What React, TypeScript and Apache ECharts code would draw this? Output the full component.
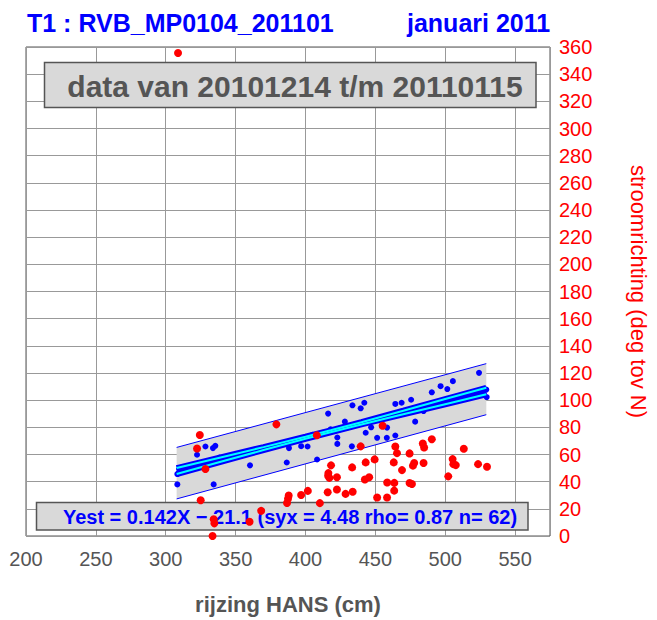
import React, { useEffect, useRef } from 'react';
import * as echarts from 'echarts';

// ---- data ----
const xMin = 200;
const xMax = 575;
const xStep = 50;
const yMin = 0;
const yMax = 360;
const yStep = 20;

const titleLeft = 'T1 : RVB_MP0104_201101';
const titleRight = 'januari 2011';
const periodText = 'data van 20101214 t/m 20110115';
const fitText = 'Yest = 0.142X \u2212 21.1 (syx = 4.48 rho= 0.87 n= 62)';
const xAxisName = 'rijzing HANS (cm)';
const yAxisName = 'stroomrichting (deg tov N)';

// blue points (n = 62)
const bluePoints: [number, number][] = [
  [308.3, 45.6], [308.3, 38.0], [322.4, 59.8], [328.4, 65.9], [333.8, 64.7],
  [335.5, 66.4], [334.3, 38.0], [338.5, 57.8], [360.3, 52.0], [386.6, 54.1],
  [388.2, 64.7], [396.9, 66.1], [401.5, 65.9], [408.3, 56.3], [416.2, 90.1],
  [433.6, 96.2], [439.5, 94.0], [442.1, 98.1], [428.2, 84.2], [422.8, 72.5],
  [422.8, 67.8], [433.2, 66.0], [443.1, 76.0], [451.3, 72.3], [458.2, 72.3],
  [464.3, 74.0], [464.3, 97.2], [468.8, 98.1], [475.6, 100.3], [478.5, 84.2],
  [490.4, 105.8], [501.5, 108.2], [505.5, 114.0], [524.2, 120.1], [529.7, 102.3],
  [529.4, 107.8], [496.7, 110.3], [484.5, 92.0], [458.4, 79.8], [315.0, 50.5],
  [325.0, 52.6], [345.0, 58.2], [352.0, 60.5], [365.0, 63.5], [372.0, 65.2],
  [380.0, 67.5], [392.0, 70.5], [400.0, 72.0], [405.0, 74.5], [412.0, 76.0],
  [418.0, 78.5], [425.0, 79.5], [430.0, 80.0], [436.0, 82.5], [445.0, 84.0],
  [450.0, 86.0], [455.0, 87.0], [470.0, 91.0], [488.0, 96.5], [510.0, 101.5],
  [520.0, 104.0], [447.0, 80.0],
];

// red points
const redPoints: [number, number][] = [
  [308.8, 355.6], [324.4, 74.3], [322.4, 64.4], [328.4, 49.3], [379.2, 82.2],
  [408.1, 74.2], [325.0, 26.3], [334.3, 12.3], [334.8, 9.3], [333.5, 0.0],
  [360.0, 10.5], [368.3, 18.5], [386.8, 24.3], [388.0, 29.8], [387.5, 27.5],
  [396.9, 30.2], [401.7, 33.2], [410.3, 24.2], [415.9, 32.2], [416.2, 44.4],
  [416.4, 46.3], [418.3, 52.0], [417.1, 42.8], [422.5, 43.2], [422.5, 34.2],
  [428.7, 31.0], [433.8, 32.6], [433.4, 50.5], [439.5, 66.0], [443.1, 54.2],
  [442.5, 41.6], [445.6, 43.2], [449.5, 56.4], [451.3, 28.3], [458.4, 28.3],
  [458.5, 39.4], [463.6, 39.1], [463.5, 33.4], [463.2, 54.2], [464.3, 65.9],
  [465.5, 61.0], [469.1, 48.5], [474.5, 39.0], [476.2, 38.3], [474.5, 60.8],
  [477.8, 53.7], [476.9, 51.8], [484.5, 53.7], [484.0, 68.1], [484.9, 65.2],
  [490.4, 71.2], [502.2, 43.9], [505.3, 56.6], [505.8, 52.9], [507.6, 52.2],
  [513.3, 64.2], [523.5, 52.9], [529.9, 51.0], [455.2, 81.2],
];

// prediction band (outer, thin blue lines + grey fill)
const predX = [307.8, 529.4];
const predUpper = [65.2, 126.9];
const predLower = [27.3, 89.3];

// regression line
const regX = [307.8, 529.4];
const regY = [47.8, 106.7];

// confidence band of the mean (thick blue/cyan lines)
const ciX = [307.8, 340, 370, 400, 418, 440, 470, 500, 529.4];
const ciUpper = [50.0, 58.0, 65.45, 73.07, 77.8, 83.75, 92.23, 100.8, 109.1];
const ciLower = [45.6, 54.8, 63.25, 71.57, 76.4, 82.15, 89.63, 97.0, 104.3];

const FONT = '"Liberation Sans", Arial, Helvetica, sans-serif';

function pairs(xs: number[], ys: number[]) {
  return xs.map((x, i) => [x, ys[i]]);
}

export default function App() {
  const ref = useRef<HTMLDivElement>(null);

  useEffect(() => {
    if (!ref.current) return;
    const chart = echarts.init(ref.current, undefined, { renderer: 'svg' });

    const bandRender = (_params: any, api: any) => {
      const pts = [
        api.coord([predX[0], predLower[0]]),
        api.coord([predX[1], predLower[1]]),
        api.coord([predX[1], predUpper[1]]),
        api.coord([predX[0], predUpper[0]]),
      ];
      return {
        type: 'polygon',
        shape: { points: pts },
        style: { fill: '#d9d9d9', stroke: 'none' },
      };
    };

    const lineSeries = (data: number[][], color: string, width: number, z: number) => ({
      type: 'line',
      data,
      symbol: 'none',
      showSymbol: false,
      lineStyle: { color, width, cap: 'butt', opacity: 1 },
      z,
      silent: true,
    });

    chart.setOption({
      animation: false,
      backgroundColor: '#ffffff',
      grid: {
        left: 26,
        right: 103,
        top: 47,
        bottom: 81,
        show: true,
        borderColor: '#555555',
        borderWidth: 1,
        backgroundColor: 'transparent',
      },
      xAxis: {
        type: 'value',
        min: xMin,
        max: xMax,
        interval: xStep,
        name: xAxisName,
        nameLocation: 'middle',
        nameGap: 57,
        nameTextStyle: { color: '#555555', fontSize: 22, fontWeight: 'bold', fontFamily: FONT },
        axisLine: { show: false },
        axisTick: { show: false },
        axisLabel: {
          color: '#555555',
          fontSize: 20,
          fontFamily: FONT,
          margin: 13,
          showMaxLabel: false,
        },
        splitLine: { show: true, lineStyle: { color: '#999999', width: 1 } },
      },
      yAxis: {
        type: 'value',
        position: 'right',
        min: yMin,
        max: yMax,
        interval: yStep,
        name: yAxisName,
        nameLocation: 'middle',
        nameRotate: -90,
        nameGap: 77,
        nameTextStyle: { color: '#ff0000', fontSize: 22, fontFamily: FONT },
        axisLine: { show: false },
        axisTick: { show: false },
        axisLabel: { color: '#ff0000', fontSize: 20, fontFamily: FONT, margin: 9 },
        splitLine: { show: true, lineStyle: { color: '#999999', width: 1 } },
      },
      graphic: [
        {
          type: 'text',
          x: 27,
          y: 23,
          z: 10,
          style: {
            text: titleLeft,
            fill: '#0000ff',
            fontSize: 25,
            fontWeight: 'bold',
            fontFamily: FONT,
            align: 'left',
            verticalAlign: 'middle',
          },
        },
        {
          type: 'text',
          x: 407,
          y: 23,
          z: 10,
          style: {
            text: titleRight,
            fill: '#0000ff',
            fontSize: 25,
            fontWeight: 'bold',
            fontFamily: FONT,
            align: 'left',
            verticalAlign: 'middle',
          },
        },
        {
          type: 'rect',
          z: 1,
          shape: { x: 44.5, y: 62.5, width: 491.5, height: 45 },
          style: { fill: '#d9d9d9', stroke: '#555555', lineWidth: 1.5 },
        },
        {
          type: 'text',
          x: 295,
          y: 86,
          z: 1,
          style: {
            text: periodText,
            fill: '#555555',
            fontSize: 30,
            fontWeight: 'bold',
            fontFamily: FONT,
            align: 'center',
            verticalAlign: 'middle',
          },
        },
        {
          type: 'rect',
          z: 1,
          shape: { x: 36.5, y: 502.5, width: 491.5, height: 27.5 },
          style: { fill: '#d9d9d9', stroke: '#555555', lineWidth: 1.5 },
        },
        {
          type: 'text',
          x: 290,
          y: 517,
          z: 1,
          style: {
            text: fitText,
            fill: '#0000ff',
            fontSize: 20,
            fontWeight: 'bold',
            fontFamily: FONT,
            align: 'center',
            verticalAlign: 'middle',
          },
        },
      ],
      series: [
        {
          type: 'custom',
          renderItem: bandRender,
          data: [[predX[0], predLower[0]]],
          encode: { x: 0, y: 1 },
          z: 2,
          silent: true,
        },
        lineSeries(pairs(predX, predUpper), '#0000ff', 1, 3),
        lineSeries(pairs(predX, predLower), '#0000ff', 1, 3),
        {
          type: 'scatter',
          data: bluePoints,
          symbol: 'circle',
          symbolSize: 6,
          itemStyle: { color: '#0000ff', opacity: 1 },
          z: 4,
          silent: true,
        },
        lineSeries(pairs(ciX, ciUpper), '#0000ff', 6, 5),
        lineSeries(pairs(ciX, ciLower), '#0000ff', 6, 5),
        lineSeries(pairs(regX, regY), '#0000ff', 6, 5),
        lineSeries(pairs(ciX, ciUpper), '#00ffff', 2, 6),
        lineSeries(pairs(ciX, ciLower), '#00ffff', 2, 6),
        {
          type: 'scatter',
          data: redPoints,
          symbol: 'circle',
          symbolSize: 8,
          itemStyle: { color: '#ff0000', opacity: 1 },
          z: 7,
          silent: true,
        },
      ],
    });

    return () => {
      chart.dispose();
    };
  }, []);

  return (
    <div
      ref={ref}
      style={{ position: 'absolute', left: 0, top: 0, width: 657, height: 620, background: '#ffffff' }}
    />
  );
}
